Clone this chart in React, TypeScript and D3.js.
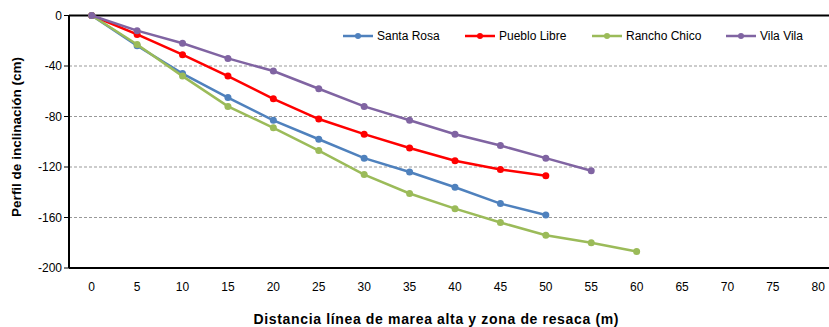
import React from "react";
import * as d3 from "d3";

const categories = [0, 5, 10, 15, 20, 25, 30, 35, 40, 45, 50, 55, 60, 65, 70, 75, 80];
const yTicks = [0, -40, -80, -120, -160, -200];

const santaRosa = [0, -24, -46, -65, -83, -98, -113, -124, -136, -149, -158];
const puebloLibre = [0, -15, -31, -48, -66, -82, -94, -105, -115, -122, -127];
const ranchoChico = [0, -23, -48, -72, -89, -107, -126, -141, -153, -164, -174, -180, -187];
const vilaVila = [0, -12, -22, -34, -44, -58, -72, -83, -94, -103, -113, -123];

const seriesNames = ["Santa Rosa", "Pueblo Libre", "Rancho Chico", "Vila Vila"];
const seriesColors = ["#4F81BD", "#FF0000", "#9BBB59", "#8064A2"];
const seriesData = [santaRosa, puebloLibre, ranchoChico, vilaVila];

export default function App() {
  const W = 829, H = 327;
  const left = 69, right = 841, top = 15.5, bottom = 268;
  const x = d3.scalePoint<number>().domain(categories).range([left, right]).padding(0.5);
  const y = d3.scaleLinear().domain([-200, 0]).range([bottom, top]);
  const line = d3.line<number>().x((_, i) => x(categories[i])!).y((d) => y(d));
  const font = "'Liberation Sans', Arial, sans-serif";
  const legendX = [343, 465, 592, 726];
  const legendY = 36;

  return (
    <svg width={W} height={H} style={{ position: "absolute", left: 0, top: 0, fontFamily: font }}>
      <rect width={W} height={H} fill="#fff" />
      {yTicks.filter((t) => t !== 0 && t !== -200).map((t) => (
        <line key={t} x1={left} x2={right} y1={y(t)} y2={y(t)} stroke="#999" strokeWidth={1} strokeDasharray="3,2" />
      ))}
      {yTicks.map((t) => (
        <g key={t}>
          <line x1={left - 5} x2={left} y1={y(t)} y2={y(t)} stroke="#000" strokeWidth={1} />
          <text x={left - 7} y={y(t)} dy="0.35em" textAnchor="end" fontSize={12} fill="#000">{t}</text>
        </g>
      ))}
      <line x1={left} x2={right} y1={y(0)} y2={y(0)} stroke="#000" strokeWidth={2} />
      <line x1={left} x2={right} y1={y(-200)} y2={y(-200)} stroke="#000" strokeWidth={2} />
      <line x1={left} x2={left} y1={top} y2={bottom} stroke="#000" strokeWidth={2} />
      {categories.map((c) => (
        <text key={c} x={x(c)} y={291} textAnchor="middle" fontSize={12} fill="#000">{c}</text>
      ))}
      {seriesData.map((s, k) => (
        <g key={k}>
          <path d={line(s) || ""} fill="none" stroke={seriesColors[k]} strokeWidth={2.5} />
          {s.map((v, i) => (
            <circle key={i} cx={x(categories[i])} cy={y(v)} r={3.5} fill={seriesColors[k]} />
          ))}
        </g>
      ))}
      {seriesNames.map((n, k) => (
        <g key={n}>
          <line x1={legendX[k]} x2={legendX[k] + 30} y1={legendY} y2={legendY} stroke={seriesColors[k]} strokeWidth={2.5} />
          <circle cx={legendX[k] + 15} cy={legendY} r={3} fill={seriesColors[k]} />
          <text x={legendX[k] + 34} y={legendY} dy="0.35em" fontSize={12} fill="#000">{n}</text>
        </g>
      ))}
      <text x={436} y={324} textAnchor="middle" fontSize={14} fontWeight="bold" fill="#000"
        textLength={365} lengthAdjust="spacing">
        Distancia  línea de marea alta y zona de resaca (m)
      </text>
      <text transform={`translate(21,137) rotate(-90)`} textAnchor="middle" fontSize={13.5} fontWeight="bold" fill="#000">
        Perfil de inclinación (cm)
      </text>
    </svg>
  );
}
